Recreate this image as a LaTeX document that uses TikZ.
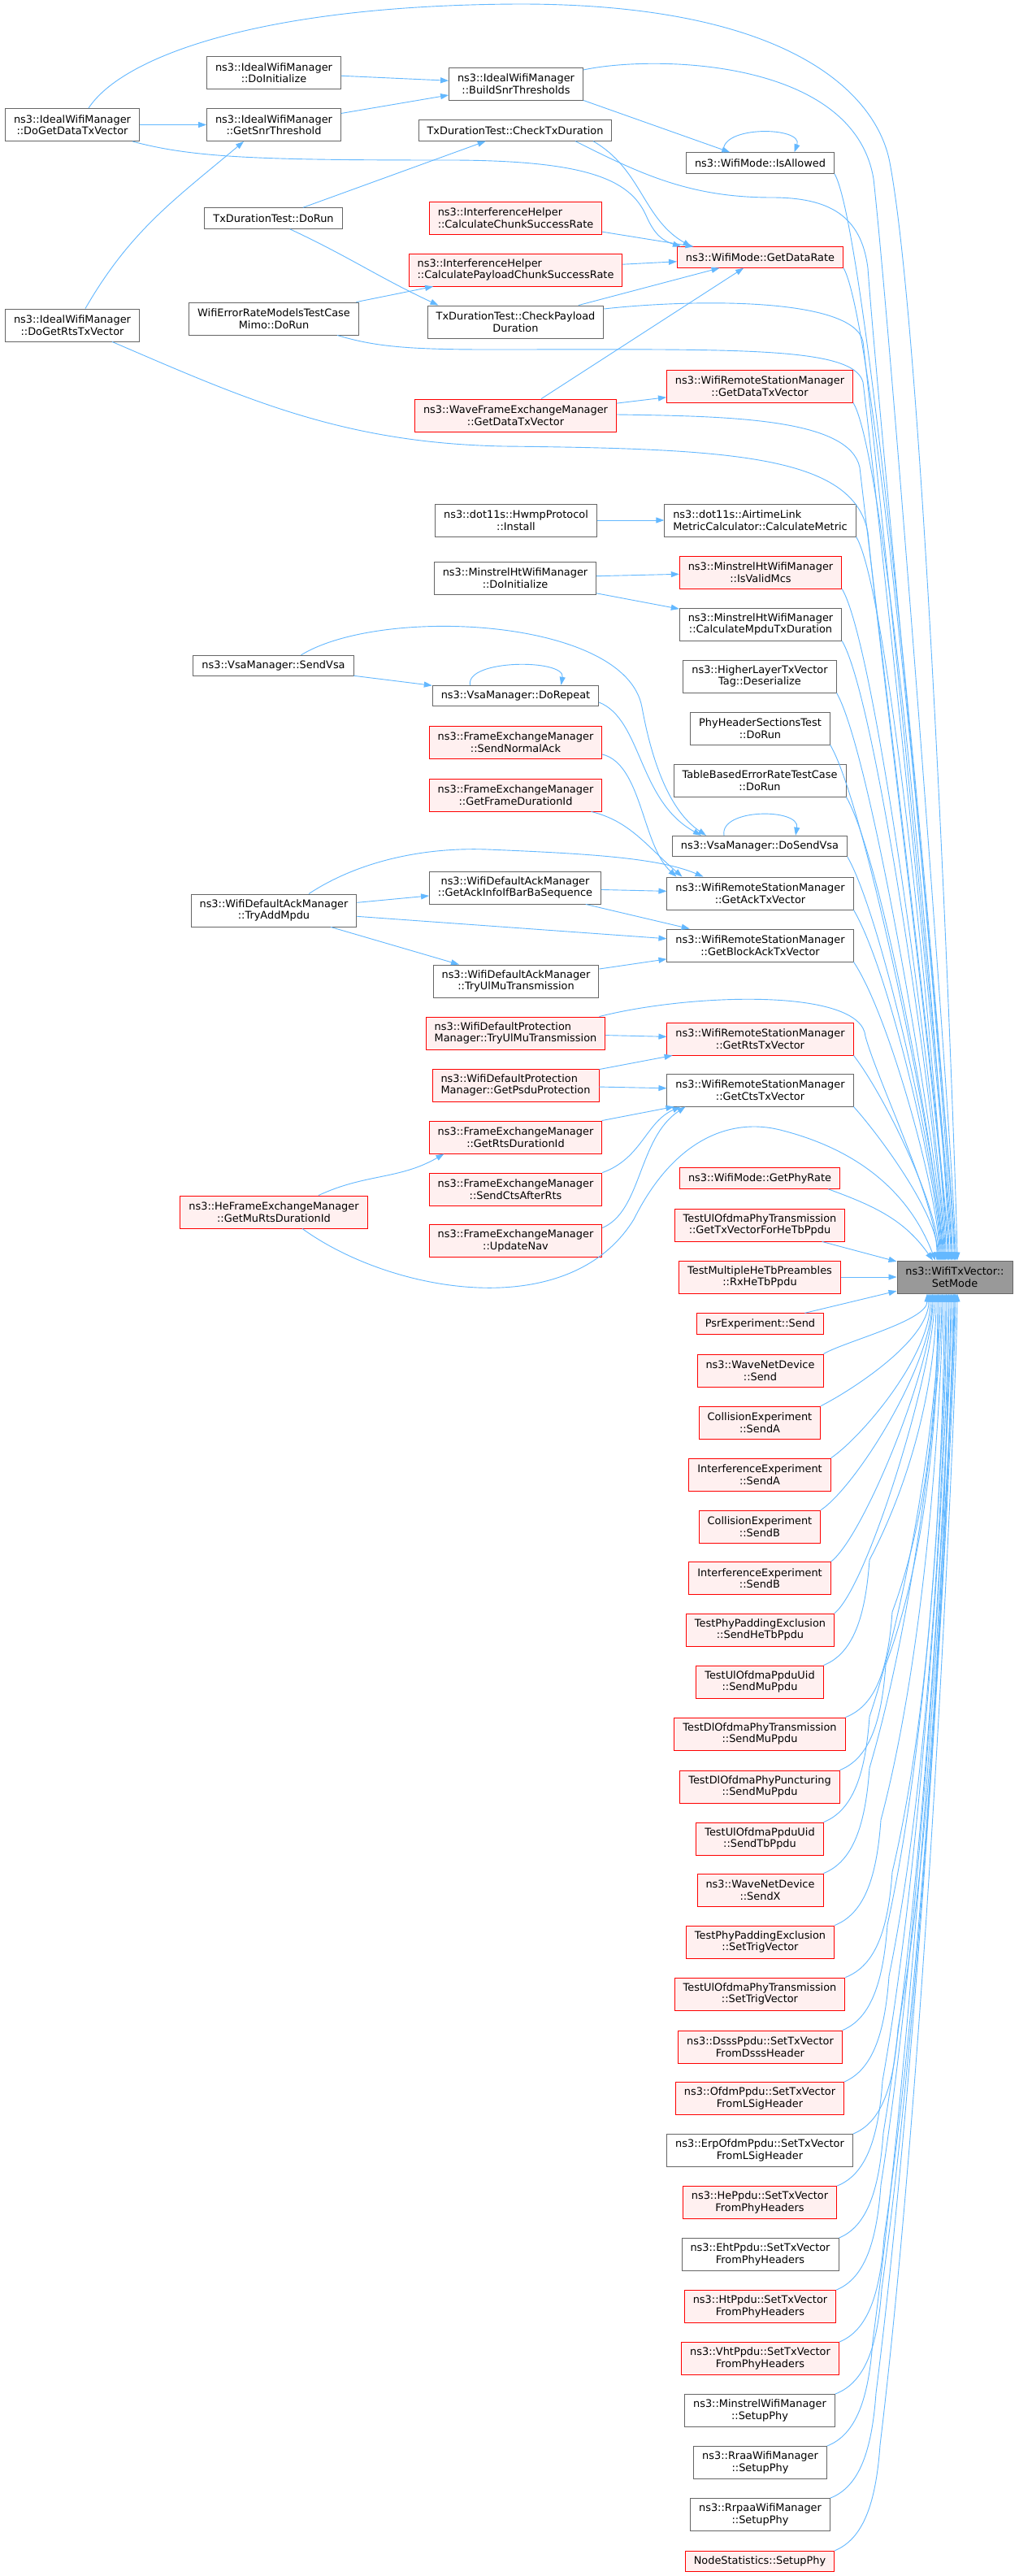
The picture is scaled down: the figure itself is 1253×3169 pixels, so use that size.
\documentclass[tikz,border=0pt]{standalone}
\usepackage{fontspec}
\usepackage{tikz}
\usetikzlibrary{arrows.meta, positioning}
\newfontfamily\dejavu{DejaVu Sans}

\definecolor{edgeblue}{HTML}{63B8FF}
\definecolor{boxgray}{HTML}{666666}
\definecolor{hotfill}{HTML}{FFF0F0}
\definecolor{selfill}{HTML}{999999}

\tikzset{
  fn/.style={draw=boxgray, fill=white, line width=0.9pt, font=\dejavu\fontsize{12.9}{14.5}\selectfont,
    align=center, inner xsep=10.5pt, inner ysep=1pt, minimum height=40pt},
  hot/.style={fn, draw=red, fill=hotfill},
  oneline/.style={minimum height=25.5pt},
  calls/.style={draw=edgeblue, line width=0.9pt, -{Triangle[length=10pt,width=7pt]}},
}

\begin{document}
\begin{tikzpicture}[x=1pt, y=-1pt]
\fill[white] (0,0) rectangle (1253,3169);
\useasboundingbox (0,0) rectangle (1253,3169);

% outer callers
\node[fn] (dgdtv) at (89,153.5) {ns3::IdealWifiManager\\::DoGetDataTxVector};
\node[fn] (dgrtv) at (89,400) {ns3::IdealWifiManager\\::DoGetRtsTxVector};

% third column
\node[fn] (iwminit) at (337,89.5) {ns3::IdealWifiManager\\::DoInitialize};
\node[fn] (snrthr) at (337,153.5) {ns3::IdealWifiManager\\::GetSnrThreshold};
\node[fn,oneline] (txdrun) at (336.5,268.5) {TxDurationTest::DoRun};
\node[fn] (mimo) at (337,392) {WifiErrorRateModelsTestCase\\Mimo::DoRun};
\node[fn,oneline] (sendvsa) at (336.5,819) {ns3::VsaManager::SendVsa};
\node[fn] (tryadd) at (337,1120) {ns3::WifiDefaultAckManager\\::TryAddMpdu};
\node[hot] (murts) at (337,1491) {ns3::HeFrameExchangeManager\\::GetMuRtsDurationId};

% second column
\node[fn] (buildsnr) at (635,103) {ns3::IdealWifiManager\\::BuildSnrThresholds};
\node[fn,oneline] (chktx) at (634,160.5) {TxDurationTest::CheckTxDuration};
\node[hot,align=left] (chunk) at (634.5,268) {ns3::InterferenceHelper\\::CalculateChunkSuccessRate};
\node[hot,align=left] (payload) at (634.5,332) {ns3::InterferenceHelper\\::CalculatePayloadChunkSuccessRate};
\node[fn] (chkpay) at (634.5,396) {TxDurationTest::CheckPayload\\Duration};
\node[hot] (wavefem) at (634.5,511) {ns3::WaveFrameExchangeManager\\::GetDataTxVector};
\node[fn] (hwmp) at (635,640) {ns3::dot11s::HwmpProtocol\\::Install};
\node[fn] (mhtinit) at (634,711) {ns3::MinstrelHtWifiManager\\::DoInitialize};
\node[fn,oneline] (dorepeat) at (634.5,856) {ns3::VsaManager::DoRepeat};
\node[hot] (normack) at (634.5,913) {ns3::FrameExchangeManager\\::SendNormalAck};
\node[hot] (framedur) at (634.5,978) {ns3::FrameExchangeManager\\::GetFrameDurationId};
\node[fn] (ackinfo) at (634,1092) {ns3::WifiDefaultAckManager\\::GetAckInfoIfBarBaSequence};
\node[fn] (ackulmu) at (635,1207) {ns3::WifiDefaultAckManager\\::TryUlMuTransmission};
\node[hot,align=left] (protulmu) at (634.5,1271) {ns3::WifiDefaultProtection\\Manager::TryUlMuTransmission};
\node[hot,align=left] (psduprot) at (634.5,1335) {ns3::WifiDefaultProtection\\Manager::GetPsduProtection};
\node[hot] (rtsdur) at (634.5,1399) {ns3::FrameExchangeManager\\::GetRtsDurationId};
\node[hot] (ctsafter) at (634.5,1463) {ns3::FrameExchangeManager\\::SendCtsAfterRts};
\node[hot] (updnav) at (634.5,1526.5) {ns3::FrameExchangeManager\\::UpdateNav};

% direct callers
\node[fn,oneline] (isallowed) at (935.5,200.5) {ns3::WifiMode::IsAllowed};
\node[hot,oneline] (datarate) at (935.5,316.5) {ns3::WifiMode::GetDataRate};
\node[hot] (wrsmdata) at (935,475) {ns3::WifiRemoteStationManager\\::GetDataTxVector};
\node[fn,align=left] (airtime) at (935.5,640) {ns3::dot11s::AirtimeLink\\MetricCalculator::CalculateMetric};
\node[hot] (validmcs) at (936,704) {ns3::MinstrelHtWifiManager\\::IsValidMcs};
\node[fn] (mpdudur) at (936,768) {ns3::MinstrelHtWifiManager\\::CalculateMpduTxDuration};
\node[fn] (deser) at (935,832) {ns3::HigherLayerTxVector\\Tag::Deserialize};
\node[fn] (phyhdr) at (935.5,896) {PhyHeaderSectionsTest\\::DoRun};
\node[fn] (tablerr) at (935,960) {TableBasedErrorRateTestCase\\::DoRun};
\node[fn,oneline] (dosendvsa) at (935,1041) {ns3::VsaManager::DoSendVsa};
\node[fn] (acktx) at (935.5,1099) {ns3::WifiRemoteStationManager\\::GetAckTxVector};
\node[fn] (backtx) at (935.5,1163) {ns3::WifiRemoteStationManager\\::GetBlockAckTxVector};
\node[hot] (rtstx) at (935.5,1278) {ns3::WifiRemoteStationManager\\::GetRtsTxVector};
\node[fn] (ctstx) at (935.5,1341) {ns3::WifiRemoteStationManager\\::GetCtsTxVector};
\node[hot,oneline] (phyrate) at (935,1449.5) {ns3::WifiMode::GetPhyRate};
\node[hot] (hetbtx) at (935,1507) {TestUlOfdmaPhyTransmission\\::GetTxVectorForHeTbPpdu};
\node[hot] (rxhetb) at (935,1571) {TestMultipleHeTbPreambles\\::RxHeTbPpdu};
\node[hot,oneline] (psr) at (935.5,1628.5) {PsrExperiment::Send};
\node[hot] (wavesend) at (935.5,1686) {ns3::WaveNetDevice\\::Send};
\node[hot] (colla) at (935,1750) {CollisionExperiment\\::SendA};
\node[hot] (inta) at (935,1814) {InterferenceExperiment\\::SendA};
\node[hot] (collb) at (935,1878) {CollisionExperiment\\::SendB};
\node[hot] (intb) at (935,1941.5) {InterferenceExperiment\\::SendB};
\node[hot] (padhetb) at (935.5,2005) {TestPhyPaddingExclusion\\::SendHeTbPpdu};
\node[hot] (uluidmu) at (935,2069) {TestUlOfdmaPpduUid\\::SendMuPpdu};
\node[hot] (dltxmu) at (935,2133) {TestDlOfdmaPhyTransmission\\::SendMuPpdu};
\node[hot] (dlpuncmu) at (935,2198) {TestDlOfdmaPhyPuncturing\\::SendMuPpdu};
\node[hot] (uluidtb) at (935,2262) {TestUlOfdmaPpduUid\\::SendTbPpdu};
\node[hot] (wavesendx) at (935.5,2325) {ns3::WaveNetDevice\\::SendX};
\node[hot] (padtrig) at (935.5,2389) {TestPhyPaddingExclusion\\::SetTrigVector};
\node[hot] (ultxtrig) at (935,2453) {TestUlOfdmaPhyTransmission\\::SetTrigVector};
\node[hot] (dsss) at (935.5,2518) {ns3::DsssPpdu::SetTxVector\\FromDsssHeader};
\node[hot] (ofdm) at (935,2581.5) {ns3::OfdmPpdu::SetTxVector\\FromLSigHeader};
\node[fn] (erp) at (935,2645.5) {ns3::ErpOfdmPpdu::SetTxVector\\FromLSigHeader};
\node[hot] (hehdr) at (935,2709.5) {ns3::HePpdu::SetTxVector\\FromPhyHeaders};
\node[fn] (ehthdr) at (935.5,2773.5) {ns3::EhtPpdu::SetTxVector\\FromPhyHeaders};
\node[hot] (hthdr) at (935.5,2837.5) {ns3::HtPpdu::SetTxVector\\FromPhyHeaders};
\node[hot] (vhthdr) at (935.5,2901.5) {ns3::VhtPpdu::SetTxVector\\FromPhyHeaders};
\node[fn] (minsetup) at (935,2965.5) {ns3::MinstrelWifiManager\\::SetupPhy};
\node[fn] (rraa) at (935.5,3029.5) {ns3::RraaWifiManager\\::SetupPhy};
\node[fn] (rrpaa) at (935.5,3093.5) {ns3::RrpaaWifiManager\\::SetupPhy};
\node[hot,oneline] (nodestat) at (935,3151) {NodeStatistics::SetupPhy};

% the function itself
\node[fn,fill=selfill] (setmode) at (1175,1571) {ns3::WifiTxVector::\\SetMode};

% IdealWifiManager calls
\draw[calls] (dgdtv) -- (snrthr);
\draw[calls] ([xshift=16]dgrtv.north) to[out=60,in=-140] ([xshift=-37]snrthr.south);
\draw[calls] (iwminit) -- (buildsnr);
\draw[calls] (snrthr) -- (buildsnr);
\draw[calls] (buildsnr.south east) -- (isallowed);
\draw[calls] ([xshift=-45]isallowed.north) to[out=100,in=70] ([xshift=42]isallowed.north);
\draw[calls] ([xshift=74]dgdtv.south) .. controls (240,195) and (330,197) .. (560,197)
  .. controls (720,198) and (775,220) .. (795,265) .. controls (805,288) and (815,296) .. ([xshift=5]datarate.north west);

% data rate callers
\draw[calls] (txdrun) -- (chktx);
\draw[calls] ([xshift=20]txdrun.south) to[out=-25,in=155] ([xshift=-95]chkpay.north);
\draw[calls] ([xshift=96]chktx.south) to[out=-30,in=150] ([xshift=-85]datarate.north);
\draw[calls] (chunk) -- (datarate);
\draw[calls] (payload) -- (datarate);
\draw[calls] (mimo) -- (payload);
\draw[calls] (chkpay) -- (datarate);
\draw[calls] (wavefem) -- (datarate);
\draw[calls] (wavefem) -- (wrsmdata);

% middle block
\draw[calls] (hwmp) -- (airtime);
\draw[calls] (mhtinit) -- (validmcs);
\draw[calls] (mhtinit) -- (mpdudur);
\draw[calls] (sendvsa) -- (dorepeat);
\draw[calls] ([xshift=-56]dorepeat.north) to[out=100,in=80,looseness=0.75] ([xshift=56]dorepeat.north);
\draw[calls] ([xshift=34]sendvsa.north) .. controls (470,745) and (770,760) .. (790,870)
  .. controls (800,925) and (820,995) .. ([xshift=-66]dosendvsa.north);
\draw[calls] ([yshift=-8]dorepeat.east) .. controls (790,885) and (785,985) .. ([xshift=-72]dosendvsa.north);
\draw[calls] ([xshift=-44]dosendvsa.north) to[out=100,in=80] ([xshift=44]dosendvsa.north);

% ack and protection managers
\draw[calls] ([yshift=-15]normack.east) .. controls (790,940) and (790,1040) .. ([xshift=-103]acktx.north);
\draw[calls] ([xshift=93]framedur.south) .. controls (775,1010) and (795,1040) .. ([xshift=-96]acktx.north);
\draw[calls] ([xshift=43]tryadd.north) .. controls (440,1060) and (520,1042) .. (600,1045)
  .. controls (720,1050) and (810,1055) .. ([xshift=-70]acktx.north);
\draw[calls] (tryadd) -- (ackinfo);
\draw[calls] (tryadd) -- (backtx);
\draw[calls] (tryadd) -- (ackulmu);
\draw[calls] (ackinfo) -- (acktx);
\draw[calls] (ackinfo) -- (backtx);
\draw[calls] (ackulmu) -- (backtx);
\draw[calls] (protulmu) -- (rtstx);
\draw[calls] (psduprot) -- (rtstx);
\draw[calls] (psduprot) -- (ctstx);
\draw[calls] (rtsdur) -- (ctstx);
\draw[calls] (ctsafter.north east) .. controls (790,1425) and (795,1380) .. ([xshift=-98]ctstx.south);
\draw[calls] ([yshift=16]updnav.east) .. controls (790,1490) and (785,1400) .. ([xshift=-92]ctstx.south);
\draw[calls] ([xshift=55]murts.north) to[out=25,in=-150] ([xshift=-88]rtsdur.south);

% long routes into SetMode
\draw[calls] ([xshift=20]dgdtv.north) .. controls (150,70) and (320,6) .. (640,5)
  .. controls (980,5) and (1080,120) .. (1095,200)
  .. controls (1140,440) and (1177,1460) .. ([xshift=3]setmode.north);
\draw[calls] ([yshift=17]buildsnr.east) .. controls (800,68) and (1050,70) .. (1075,220)
  .. controls (1100,450) and (1176,1460) .. ([xshift=1]setmode.north);
\draw[calls] ([xshift=74]chktx.south) .. controls (790,215) and (850,243) .. (950,243)
  .. controls (1020,243) and (1060,265) .. (1068,330)
  .. controls (1080,500) and (1175,1460) .. (setmode.north);
\draw[calls] ([yshift=16]chkpay.east) .. controls (850,368) and (1050,365) .. (1062,420)
  .. controls (1078,560) and (1171,1460) .. ([xshift=-4]setmode.north);
\draw[calls] ([xshift=78]mimo.south) .. controls (460,426) and (500,430) .. (600,430)
  .. controls (900,430) and (1050,425) .. (1062,470)
  .. controls (1078,600) and (1170,1460) .. ([xshift=-5]setmode.north);
\draw[calls] ([yshift=1]wavefem.east) .. controls (900,512) and (1045,515) .. (1058,575)
  .. controls (1072,700) and (1167,1460) .. ([xshift=-8]setmode.north);
\draw[calls] ([xshift=49]dgrtv.south) .. controls (300,490) and (420,545) .. (620,549)
  .. controls (900,552) and (1050,560) .. (1068,655)
  .. controls (1080,780) and (1166,1460) .. ([xshift=-9]setmode.north);
\draw[calls] ([xshift=103]protulmu.north) .. controls (850,1222) and (1060,1215) .. (1065,1275)
  .. controls (1080,1330) and (1153,1480) .. ([xshift=-22]setmode.north);
\draw[calls] ([xshift=35]murts.south) .. controls (480,1590) and (700,1630) .. (780,1500)
  .. controls (830,1400) and (900,1375) .. (960,1390)
  .. controls (1060,1415) and (1120,1470) .. ([xshift=-24]setmode.north);

% direct callers above SetMode
\draw[calls] (isallowed.south east) .. controls (1074,293) and (1174,1461) .. ([xshift=-1]setmode.north);
\draw[calls] (datarate.south east) .. controls (1084,409) and (1172,1461) .. ([xshift=-3]setmode.north);
\draw[calls] (wrsmdata.south east) .. controls (1097,575) and (1168,1461) .. ([xshift=-7]setmode.north);
\draw[calls] (airtime.south east) .. controls (1100,740) and (1164,1461) .. ([xshift=-11]setmode.north);
\draw[calls] (validmcs.south east) .. controls (1083,804) and (1163,1461) .. ([xshift=-12]setmode.north);
\draw[calls] (mpdudur.south east) .. controls (1083,868) and (1162,1461) .. ([xshift=-13]setmode.north);
\draw[calls] (deser.south east) .. controls (1075,932) and (1161,1461) .. ([xshift=-14]setmode.north);
\draw[calls] (phyhdr.south east) .. controls (1068,996) and (1160,1461) .. ([xshift=-15]setmode.north);
\draw[calls] (tablerr.south east) .. controls (1087,1060) and (1159,1461) .. ([xshift=-16]setmode.north);
\draw[calls] (dosendvsa.south east) .. controls (1088,1134) and (1158,1461) .. ([xshift=-17]setmode.north);
\draw[calls] (acktx.south east) .. controls (1097,1199) and (1157,1470) .. ([xshift=-18]setmode.north);
\draw[calls] (backtx.south east) .. controls (1095,1250) and (1156,1475) .. ([xshift=-19]setmode.north);
\draw[calls] (rtstx.south east) .. controls (1090,1350) and (1155,1485) .. ([xshift=-20]setmode.north);
\draw[calls] (ctstx.south east) .. controls (1085,1400) and (1154,1495) .. ([xshift=-21]setmode.north);
\draw[calls] ([xshift=-15]phyrate.south east) to[out=-20,in=125] ([xshift=-27]setmode.north);
\draw[calls] (hetbtx) -- (setmode);
\draw[calls] (rxhetb) -- (setmode);
\draw[calls] (psr) -- (setmode);

% direct callers below SetMode
\draw[calls] (wavesend.north east) .. controls (1040,1650) and (1141,1625) .. ([xshift=-34]setmode.south);
\draw[calls] (colla.north east) .. controls (1045,1712) and (1143,1650) .. ([xshift=-32]setmode.south);
\draw[calls] (inta.north east) .. controls (1058,1770) and (1145,1670) .. ([xshift=-30]setmode.south);
\draw[calls] (collb.north east) .. controls (1052,1830) and (1147,1681) .. ([xshift=-28]setmode.south);
\draw[calls] (intb.north east) .. controls (1063,1890) and (1148,1681) .. ([xshift=-27]setmode.south);
\draw[calls] (padhetb.north east) .. controls (1069,1950) and (1150,1681) .. ([xshift=-25]setmode.south);
\draw[calls] (uluidmu.north east) .. controls (1050,2034) and (1065,1989) .. (1070,1919)
  .. controls (1130,1804) and (1152,1681) .. ([xshift=-23]setmode.south);
\draw[calls] (dltxmu.north east) .. controls (1078,2098) and (1093,2053) .. (1098,1983)
  .. controls (1149,1846) and (1154,1681) .. ([xshift=-21]setmode.south);
\draw[calls] (dlpuncmu.north east) .. controls (1070,2163) and (1085,2118) .. (1090,2048)
  .. controls (1150,1888) and (1155,1681) .. ([xshift=-20]setmode.south);
\draw[calls] (uluidtb.north east) .. controls (1050,2227) and (1065,2182) .. (1070,2112)
  .. controls (1130,1930) and (1157,1681) .. ([xshift=-18]setmode.south);
\draw[calls] (wavesendx.north east) .. controls (1050,2290) and (1065,2245) .. (1070,2175)
  .. controls (1130,1971) and (1159,1681) .. ([xshift=-16]setmode.south);
\draw[calls] (padtrig.north east) .. controls (1064,2354) and (1079,2309) .. (1084,2239)
  .. controls (1144,2012) and (1160,1681) .. ([xshift=-15]setmode.south);
\draw[calls] (ultxtrig.north east) .. controls (1078,2418) and (1093,2373) .. (1098,2303)
  .. controls (1157,2054) and (1162,1681) .. ([xshift=-13]setmode.south);
\draw[calls] (dsss.north east) .. controls (1072,2483) and (1087,2438) .. (1092,2368)
  .. controls (1152,2096) and (1164,1681) .. ([xshift=-11]setmode.south);
\draw[calls] (ofdm.north east) .. controls (1074,2546) and (1089,2501) .. (1094,2431)
  .. controls (1154,2137) and (1165,1681) .. ([xshift=-10]setmode.south);
\draw[calls] (erp.north east) .. controls (1085,2611) and (1100,2566) .. (1105,2496)
  .. controls (1162,2179) and (1167,1681) .. ([xshift=-8]setmode.south);
\draw[calls] (hehdr.north east) .. controls (1066,2675) and (1081,2630) .. (1086,2560)
  .. controls (1146,2221) and (1168,1681) .. ([xshift=-7]setmode.south);
\draw[calls] (ehthdr.north east) .. controls (1067,2739) and (1082,2694) .. (1087,2624)
  .. controls (1147,2262) and (1170,1681) .. ([xshift=-5]setmode.south);
\draw[calls] (hthdr.north east) .. controls (1064,2803) and (1079,2758) .. (1084,2688)
  .. controls (1144,2304) and (1171,1681) .. ([xshift=-4]setmode.south);
\draw[calls] (vhthdr.north east) .. controls (1068,2867) and (1083,2822) .. (1088,2752)
  .. controls (1148,2346) and (1173,1681) .. ([xshift=-2]setmode.south);
\draw[calls] (minsetup.north east) .. controls (1065,2931) and (1080,2886) .. (1085,2816)
  .. controls (1145,2387) and (1174,1681) .. ([xshift=-1]setmode.south);
\draw[calls] (rraa.north east) .. controls (1054,2995) and (1069,2950) .. (1074,2880)
  .. controls (1134,2429) and (1175,1681) .. (setmode.south);
\draw[calls] (rrpaa.north east) .. controls (1058,3059) and (1073,3014) .. (1078,2944)
  .. controls (1138,2470) and (1176,1681) .. ([xshift=1]setmode.south);
\draw[calls] (nodestat.north east) .. controls (1063,3123) and (1078,3078) .. (1083,3008)
  .. controls (1143,2512) and (1178,1681) .. ([xshift=3]setmode.south);
\end{tikzpicture}
\end{document}
